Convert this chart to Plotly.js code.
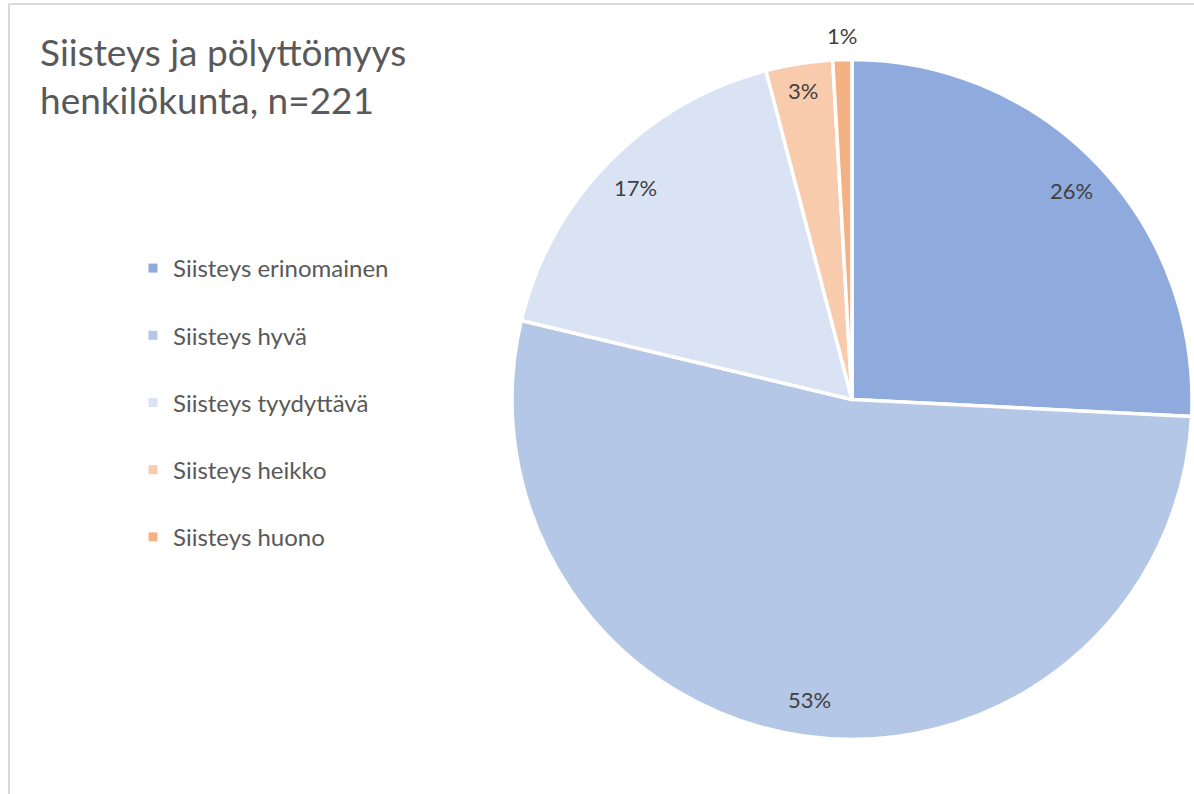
<!DOCTYPE html>
<html>
<head>
<meta charset="utf-8">
<script src="https://cdn.plot.ly/plotly-3.0.1.min.js"></script>
<style>html,body{margin:0;padding:0;background:#fff}#chart{width:1194px;height:794px}</style>
</head>
<body>
<div id="chart"></div>
<script>
const categories = ['Siisteys erinomainen', 'Siisteys hyvä', 'Siisteys tyydyttävä', 'Siisteys heikko', 'Siisteys huono'];
const counts = [57, 117, 38, 7, 2];
const colors = ['#8FAADC', '#B4C7E7', '#DAE3F3', '#F8CBAD', '#F4B183'];
const titleLines = ['Siisteys ja pölyttömyys', 'henkilökunta, n=221'];

const W = 1194, H = 794;
const FONT = 'Lato, "Open Sans", sans-serif';
// pie placement in pixels
const cx = 852, cy = 399.5, R = 340;
const domX = [(cx - R) / W, (cx + R) / W];
const domY = [1 - (cy + R) / H, 1 - (cy - R) / H];

const total = counts.reduce((a, b) => a + b, 0);

const traces = [{
  type: 'pie',
  labels: categories,
  values: counts,
  sort: false,
  direction: 'clockwise',
  rotation: 0,
  textinfo: 'none',
  marker: {colors: colors, line: {color: '#ffffff', width: 3.5}},
  domain: {x: domX, y: domY},
  showlegend: false,
  hoverinfo: 'label+percent'
}];

categories.forEach((c, i) => {
  traces.push({
    type: 'scatter', mode: 'markers', x: [null], y: [null],
    name: c, legendgroup: 'g' + i, showlegend: true,
    marker: {symbol: 'square', size: 9, color: colors[i]},
    hoverinfo: 'skip'
  });
});

// percent labels computed from values
const annotations = [];
let cum = 0;
counts.forEach((v, i) => {
  const frac = v / total;
  const mid = (cum + frac / 2) * 2 * Math.PI;
  cum += frac;
  const k = frac < 0.02 ? 1.07 : (frac < 0.05 ? 0.92 : 0.89);
  const px = cx + k * R * Math.sin(mid);
  const py = cy - k * R * Math.cos(mid);
  annotations.push({
    xref: 'paper', yref: 'paper', x: px / W, y: 1 - py / H,
    xanchor: 'center', yanchor: 'middle', showarrow: false,
    text: Math.round(frac * 100) + '%',
    font: {family: FONT, size: 22, color: '#404040'}
  });
});

const layout = {
  width: W, height: H,
  margin: {l: 0, r: 0, t: 0, b: 0},
  paper_bgcolor: '#ffffff', plot_bgcolor: 'rgba(0,0,0,0)',
  title: {
    text: titleLines.join('<br>'),
    x: 40 / W, xanchor: 'left', xref: 'paper',
    y: 1 - 66 / H, yanchor: 'top', yref: 'paper',
    font: {family: FONT, size: 37, color: '#595959'}
  },
  xaxis: {visible: false, domain: [0, 0.01]},
  yaxis: {visible: false, domain: [0, 0.01]},
  showlegend: true,
  legend: {
    x: 133 / W, xanchor: 'left', y: 1 - 246 / H, yanchor: 'top',
    tracegroupgap: 33,
    font: {family: FONT, size: 24, color: '#595959'},
    bgcolor: 'rgba(0,0,0,0)',
    itemclick: false, itemdoubleclick: false
  },
  annotations: annotations,
  shapes: [
    {type: 'line', xref: 'paper', yref: 'paper', x0: 9 / W, x1: 1, y0: 1 - 4 / H, y1: 1 - 4 / H, line: {color: '#d9d9d9', width: 2}},
    {type: 'line', xref: 'paper', yref: 'paper', x0: 9 / W, x1: 9 / W, y0: 0, y1: 1 - 4 / H, line: {color: '#d9d9d9', width: 2}}
  ]
};

Plotly.newPlot('chart', traces, layout, {displayModeBar: false, staticPlot: true});
</script>
</body>
</html>
